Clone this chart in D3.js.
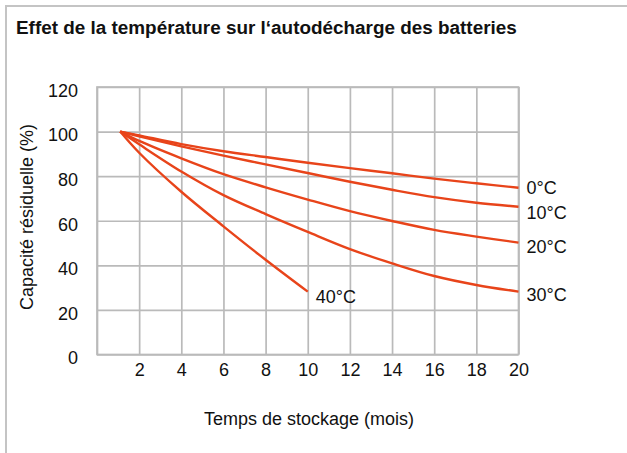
<!DOCTYPE html>
<html>
<head>
<meta charset="utf-8">
<script src="https://cdn.jsdelivr.net/npm/d3@7"></script>
<style>
  body { margin: 0; background: #fff; }
  svg { display: block; font-family: "Liberation Sans", Arial, sans-serif; }
</style>
</head>
<body>
<div id="chart"></div>
<script>
// storage time (months) and residual capacity (%) per temperature
var months = [1.1, 2, 4, 6, 8, 10, 12, 14, 16, 18, 20];
var temps = ["0°C", "10°C", "20°C", "30°C", "40°C"];
var cap0 = [100, 98.3, 94.4, 91.2, 88.6, 86.0, 83.6, 81.3, 78.9, 76.8, 74.8];
var cap10 = [100, 97.9, 93.4, 89.2, 85.3, 81.4, 77.5, 73.9, 70.6, 68.1, 66.3];
var cap20 = [100, 95.8, 88.0, 80.9, 75.0, 69.5, 64.3, 59.9, 55.9, 52.9, 50.2];
var cap30 = [100, 94.3, 82.1, 71.5, 63.0, 55.0, 47.3, 40.9, 35.2, 31.2, 28.2];
var cap40 = [100, 90.5, 73.0, 57.5, 42.5, 28.2];
var xTicks = [0, 2, 4, 6, 8, 10, 12, 14, 16, 18, 20];
var yTicks = [0, 20, 40, 60, 80, 100, 120];

var series = [cap0, cap10, cap20, cap30, cap40].map(function(vals, i) {
  return { name: temps[i], points: vals.map(function(v, j) { return [months[j], v]; }) };
});

var svgWidth = 627, svgHeight = 453;
var margin = { top: 87, left: 97, right: 108.5, bottom: 98.5 };
var width = svgWidth - margin.left - margin.right;
var height = svgHeight - margin.top - margin.bottom;

var svg = d3.select("#chart").append("svg")
  .attr("width", svgWidth)
  .attr("height", svgHeight);

// frame (top + left only)
svg.append("path")
  .attr("d", "M6,453V6H627")
  .attr("fill", "none")
  .attr("stroke", "#c4c4c4")
  .attr("stroke-width", 2);

svg.append("text")
  .attr("x", 16)
  .attr("y", 34)
  .style("font-size", "18.9px")
  .style("font-weight", "bold")
  .attr("fill", "#111")
  .text("Effet de la température sur l‘autodécharge des batteries");

var g = svg.append("g")
  .attr("transform", "translate(" + margin.left + "," + margin.top + ")");

var x = d3.scaleLinear().domain([0, 20]).range([0, width]);
var y = d3.scaleLinear().domain([0, 120]).range([height, 0]);

// grid + ticks via axes
var xAxis = g.append("g")
  .attr("transform", "translate(0," + height + ")")
  .call(d3.axisBottom(x).tickValues(xTicks).tickSizeInner(-height).tickSizeOuter(0)
    .tickPadding(0).tickFormat(function(d) { return d === 0 ? "" : d; }));

var yAxis = g.append("g")
  .call(d3.axisLeft(y).tickValues(yTicks).tickSizeInner(-width).tickSizeOuter(0)
    .tickPadding(19));

[xAxis, yAxis].forEach(function(ax) {
  ax.select(".domain").remove();
  ax.selectAll("line").attr("stroke", "#bababa").attr("stroke-width", 1.7);
  ax.selectAll("text").style("font-size", "18px").style("font-family", "Liberation Sans, Arial, sans-serif").attr("fill", "#111");
});
xAxis.selectAll("text").attr("dy", null).attr("y", 21);
yAxis.selectAll("text").attr("dy", "0.52em");

// closing borders on top and right of plot
g.append("rect")
  .attr("width", width)
  .attr("height", height)
  .attr("fill", "none")
  .attr("stroke", "#bababa")
  .attr("stroke-width", 1.7);

var line = d3.line()
  .x(function(d) { return x(d[0]); })
  .y(function(d) { return y(d[1]); })
  .curve(d3.curveCatmullRom.alpha(0.5));

g.selectAll(".curve")
  .data(series)
  .enter()
  .append("path")
  .attr("class", "curve")
  .attr("d", function(d) { return line(d.points); })
  .attr("fill", "none")
  .attr("stroke", "#e8441a")
  .attr("stroke-width", 2.4)
  .attr("stroke-linejoin", "round");

var labelShift = [6, 12, 10, 9, 11];
g.selectAll(".lbl")
  .data(series)
  .enter()
  .append("text")
  .attr("class", "lbl")
  .attr("x", function(d) { return x(d.points[d.points.length - 1][0]) + 8; })
  .attr("y", function(d, i) { return y(d.points[d.points.length - 1][1]) + labelShift[i]; })
  .style("font-size", "18px")
  .attr("fill", "#111")
  .text(function(d) { return d.name; });

svg.append("text")
  .attr("x", 309)
  .attr("y", 425)
  .attr("text-anchor", "middle")
  .style("font-size", "18px")
  .attr("fill", "#111")
  .text("Temps de stockage (mois)");

svg.append("text")
  .attr("transform", "translate(33,217) rotate(-90)")
  .attr("text-anchor", "middle")
  .style("font-size", "18px")
  .attr("fill", "#111")
  .text("Capacité résiduelle (%)");
</script>
</body>
</html>
